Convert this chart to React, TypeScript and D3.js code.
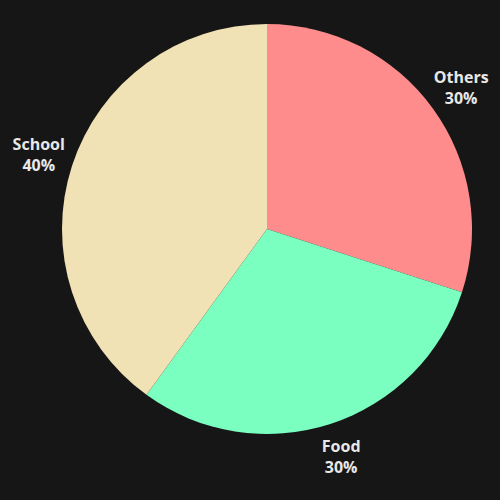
import React, { useEffect, useRef } from 'react';
import * as d3 from 'd3';

const categories = ['Others', 'Food', 'School'];
const values = [30, 30, 40];
const colors = ['#FF8C8C', '#7BFFC0', '#F0E2B4'];

function PieChart() {
  const svgRef = useRef<SVGSVGElement>(null);

  useEffect(() => {
    document.body.style.margin = '0';
    document.body.style.background = '#161616';

    const svg = d3.select(svgRef.current);
    svg.selectAll('*').remove();

    const width = 500;
    const height = 500;
    const cx = 267;
    const cy = 229;
    const radius = 205;

    svg.append('rect')
      .attr('width', width)
      .attr('height', height)
      .attr('fill', '#161616');

    const data = categories.map((c, i) => ({ name: c, value: values[i], color: colors[i] }));

    const pie = d3.pie<any>().value(d => d.value).sort(null);
    const arcs = pie(data);

    const arc = d3.arc<any>().innerRadius(0).outerRadius(radius);
    const labelArc = d3.arc<any>().innerRadius(240).outerRadius(240);

    const g = svg.append('g').attr('transform', `translate(${cx},${cy})`);

    g.selectAll('path')
      .data(arcs)
      .enter().append('path')
      .attr('d', arc)
      .attr('fill', d => d.data.color);

    const labels = g.selectAll('text')
      .data(arcs)
      .enter().append('text')
      .attr('transform', d => `translate(${labelArc.centroid(d)})`)
      .attr('text-anchor', 'middle')
      .attr('fill', '#E8E8E8')
      .attr('font-family', '"Open Sans", sans-serif')
      .attr('font-weight', 'bold')
      .attr('font-size', 16);

    labels.append('tspan')
      .attr('x', 0)
      .attr('y', -5)
      .text(d => d.data.name);

    labels.append('tspan')
      .attr('x', 0)
      .attr('y', 16)
      .text(d => `${d.data.value}%`);
  }, []);

  return <svg ref={svgRef} width="500" height="500" style={{ display: 'block' }}></svg>;
}

export default function App() {
  return <PieChart />;
}
